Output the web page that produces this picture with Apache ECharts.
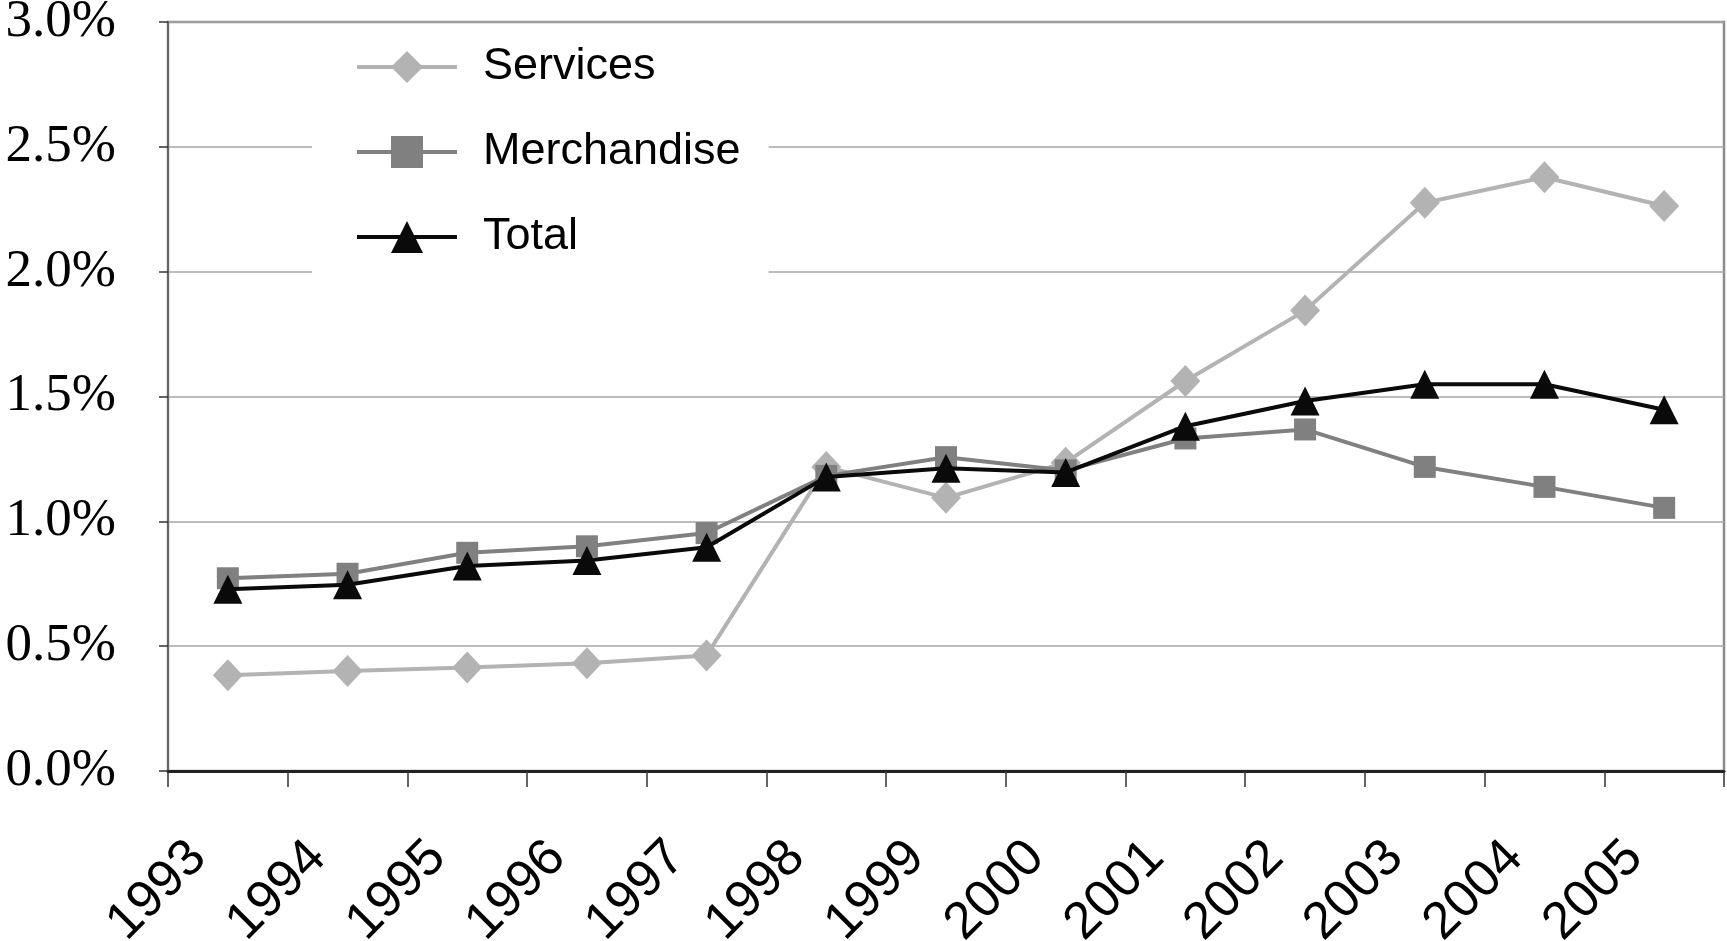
<!DOCTYPE html>
<html><head><meta charset="utf-8">
<script src="https://cdn.jsdelivr.net/npm/echarts@6/dist/echarts.min.js"></script>
<style>html,body{margin:0;padding:0;background:#fff}#c{width:1727px;height:941px}</style>
</head><body><div id="c"></div>
<script>
const years = ['1993','1994','1995','1996','1997','1998','1999','2000','2001','2002','2003','2004','2005'];
const services = [0.384,0.401,0.415,0.432,0.463,1.218,1.094,1.235,1.562,1.844,2.276,2.378,2.263];
const merchandise = [0.772,0.790,0.874,0.900,0.953,1.182,1.257,1.204,1.332,1.368,1.218,1.138,1.054];
const total = [0.728,0.746,0.821,0.843,0.896,1.178,1.213,1.196,1.381,1.482,1.549,1.549,1.447];
const seriesNames = ['Services','Merchandise','Total'];
const colors = ['#b3b3b3','#808080','#0a0a0a'];

const chart = echarts.init(document.getElementById('c'), null, {renderer:'canvas'});
chart.setOption({
  animation:false,
  backgroundColor:'#fff',
  grid:{left:168, right:3, top:22, bottom:170, containLabel:false, outerBoundsMode:'none',
    show:true, borderColor:'#8c8c8c', borderWidth:2.5, backgroundColor:'transparent'},
  legend:{
    orient:'vertical', left:312, top:29,
    backgroundColor:'#fff',
    padding:[14,28,22,43],
    itemWidth:100, itemHeight:40, itemGap:37,
    lineStyle:{width:4},
    data:seriesNames,
    textStyle:{fontFamily:'Liberation Sans', fontSize:45, color:'#000', lineHeight:48, padding:[0,0,0,21]}
  },
  xAxis:{
    type:'category', data:years, boundaryGap:true,
    axisLine:{lineStyle:{color:'#222', width:3}},
    axisTick:{show:true, length:16, lineStyle:{color:'#333', width:1.5}},
    axisLabel:{rotate:45, margin:49, padding:[0,42,0,0], fontFamily:'Liberation Sans', fontSize:52, color:'#000', interval:0}
  },
  yAxis:{
    type:'value', min:0, max:3, interval:0.5,
    axisLine:{show:true, lineStyle:{color:'#666', width:2}},
    axisTick:{show:true, length:9, lineStyle:{color:'#333', width:1.5}},
    splitLine:{lineStyle:{color:'#a6a6a6', width:1.5}},
    axisLabel:{margin:52, fontFamily:'Liberation Serif', fontSize:53, color:'#000',
      formatter:v=>v.toFixed(1)+'%'}
  },
  series:[
    {name:seriesNames[0], type:'line', data:services, symbol:'diamond', symbolSize:[30,32],
      itemStyle:{color:colors[0]}, lineStyle:{color:colors[0], width:4}, z:2},
    {name:seriesNames[1], type:'line', data:merchandise, symbol:'rect', symbolSize:22,
      itemStyle:{color:colors[1]}, lineStyle:{color:colors[1], width:4}, z:3},
    {name:seriesNames[2], type:'line', data:total, symbol:'triangle', symbolSize:[29,29],
      itemStyle:{color:colors[2]}, lineStyle:{color:colors[2], width:4}, z:4}
  ]
});
</script></body></html>
